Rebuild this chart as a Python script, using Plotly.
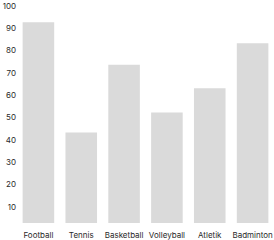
import plotly.graph_objects as go

categories = ["Football", "Tennis", "Basketball", "Volleyball", "Atletik", "Badminton"]
values = [90, 40.6, 71, 49.6, 60.4, 80.6]
y_ticks = [10, 20, 30, 40, 50, 60, 70, 80, 90, 100]

fig = go.Figure(go.Bar(x=categories, y=values, marker=dict(color="#dadada", line=dict(width=0))))

fig.update_layout(
    width=274, height=240,
    margin=dict(l=17, r=0, t=0, b=17),
    paper_bgcolor="white", plot_bgcolor="white",
    bargap=0.263,
    font=dict(family="Inter", size=8, color="#2a2a2a"),
    showlegend=False,
)
fig.update_xaxes(showgrid=False, showline=False, zeroline=False, ticks="", tickfont=dict(size=8),
                 ticklabelstandoff=6)
fig.update_yaxes(range=[0, 100], tickvals=y_ticks, showgrid=False, showline=False, zeroline=False,
                 ticks="", ticklabelshift=6, tickfont=dict(size=8))

fig.write_html("out.html")
